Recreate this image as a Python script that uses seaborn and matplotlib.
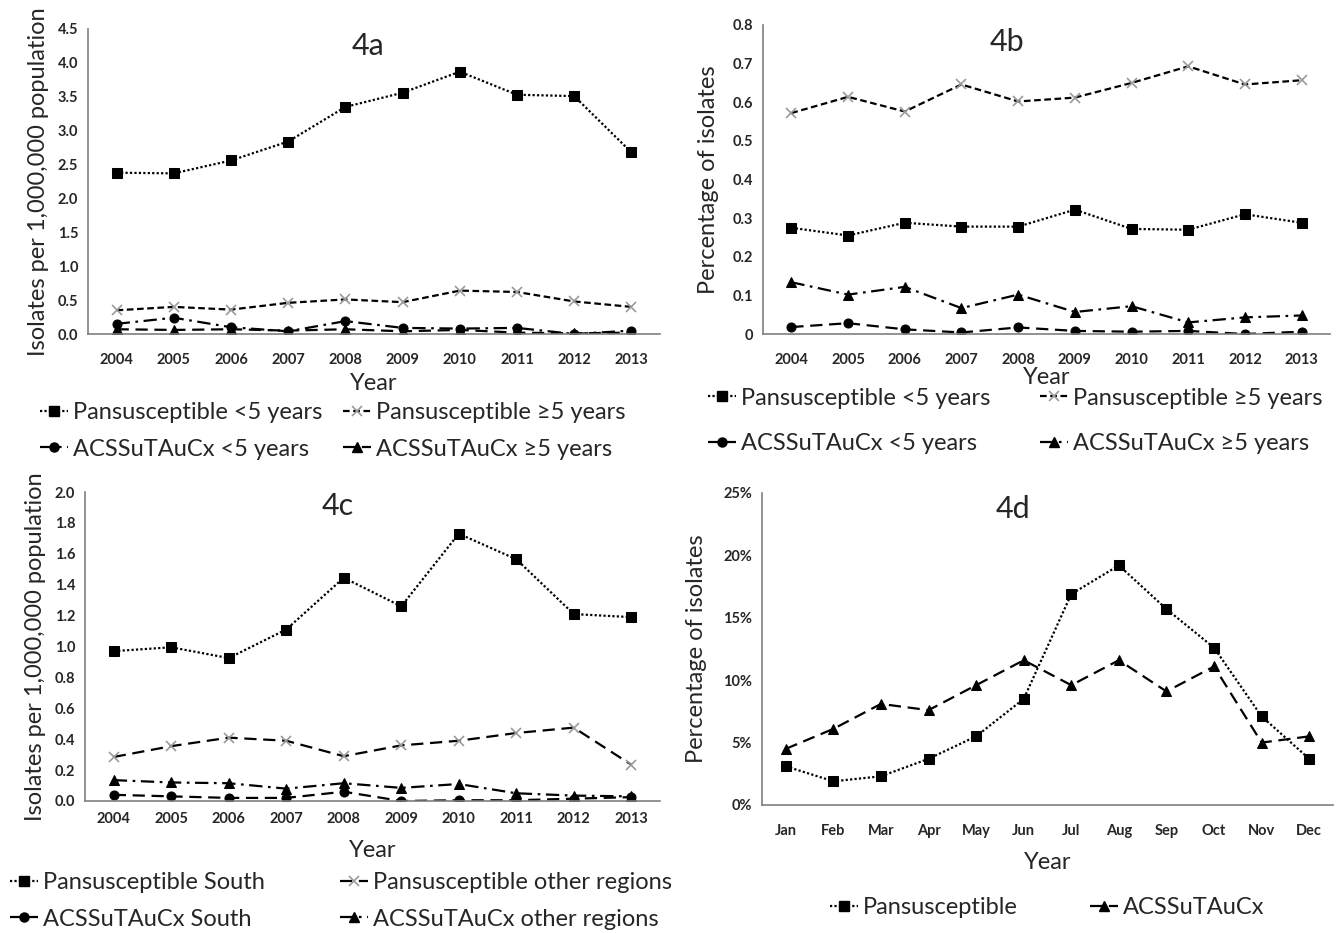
import matplotlib
matplotlib.use("Agg")
import matplotlib.pyplot as plt
import seaborn as sns
from matplotlib.lines import Line2D
from matplotlib.ticker import FuncFormatter, MultipleLocator, FixedLocator

# ---------------- data ----------------
years = ["2004", "2005", "2006", "2007", "2008", "2009", "2010", "2011", "2012", "2013"]
months = ["Jan", "Feb", "Mar", "Apr", "May", "Jun", "Jul", "Aug", "Sep", "Oct", "Nov", "Dec"]

# 4a: isolates per 1,000,000 population by age
a_pan_lt5 = [2.38, 2.37, 2.56, 2.84, 3.35, 3.56, 3.87, 3.53, 3.51, 2.68]
a_pan_ge5 = [0.35, 0.40, 0.36, 0.46, 0.51, 0.47, 0.64, 0.62, 0.48, 0.40]
a_acs_lt5 = [0.15, 0.24, 0.10, 0.04, 0.19, 0.09, 0.08, 0.09, 0.00, 0.05]
a_acs_ge5 = [0.07, 0.06, 0.07, 0.05, 0.07, 0.04, 0.06, 0.02, 0.01, 0.02]

# 4b: percentage of isolates by age
b_pan_lt5 = [0.275, 0.255, 0.288, 0.278, 0.278, 0.322, 0.272, 0.270, 0.310, 0.288]
b_pan_ge5 = [0.572, 0.614, 0.576, 0.646, 0.602, 0.612, 0.650, 0.693, 0.646, 0.657]
b_acs_lt5 = [0.018, 0.028, 0.012, 0.004, 0.017, 0.008, 0.006, 0.008, 0.000, 0.006]
b_acs_ge5 = [0.134, 0.102, 0.122, 0.067, 0.102, 0.057, 0.072, 0.030, 0.043, 0.048]

# 4c: isolates per 1,000,000 population by region
c_pan_south = [0.97, 0.995, 0.925, 1.11, 1.445, 1.26, 1.73, 1.565, 1.21, 1.19]
c_pan_other = [0.285, 0.355, 0.41, 0.39, 0.29, 0.36, 0.39, 0.44, 0.475, 0.235]
c_acs_south = [0.04, 0.03, 0.02, 0.02, 0.06, 0.00, 0.005, 0.005, 0.015, 0.025]
c_acs_other = [0.135, 0.12, 0.115, 0.08, 0.115, 0.085, 0.11, 0.05, 0.035, 0.03]

# 4d: percentage of isolates by month (%)
d_pan = [3.1, 1.9, 2.3, 3.7, 5.5, 8.5, 16.9, 19.2, 15.7, 12.6, 7.1, 3.7]
d_acs = [4.5, 6.1, 8.1, 7.6, 9.6, 11.6, 9.6, 11.6, 9.1, 11.1, 5.0, 5.5]

labels_a = ["Pansusceptible <5 years", "Pansusceptible \u22655 years",
            "ACSSuTAuCx <5 years", "ACSSuTAuCx \u22655 years"]
labels_c = ["Pansusceptible South", "Pansusceptible other regions",
            "ACSSuTAuCx South", "ACSSuTAuCx other regions"]
labels_d = ["Pansusceptible", "ACSSuTAuCx"]

# ---------------- style ----------------
sns.set_theme(style="white")
plt.rcParams['font.family'] = ['Lato', 'DejaVu Sans']

DOT = (0, (1, 1))
SDASH = (0, (3, 1.6))
LDASH = (0, (5.5, 3))
DASHDOT = (0, (6, 2.5, 1.2, 2.5))
GRAY = "#9a9a9a"
SPINE = "#7f7f7f"

STY = {
    "sq": dict(marker="s", markersize=7, markerfacecolor="black", markeredgecolor="black"),
    "x": dict(marker="x", markersize=7, markerfacecolor=GRAY, markeredgecolor=GRAY, markeredgewidth=1.2),
    "o": dict(marker="o", markersize=6.5, markerfacecolor="black", markeredgecolor="black"),
    "tri": dict(marker="^", markersize=6.5, markerfacecolor="black", markeredgecolor="black"),
}


def draw(ax, cats, vals, ls, mk, lw=1.6):
    sns.lineplot(x=cats, y=vals, ax=ax, color="black", linestyle=ls, linewidth=lw,
                 sort=False, **STY[mk])


def handle(ls, mk, lw=1.6):
    return Line2D([], [], color="black", linestyle=ls, linewidth=lw, **STY[mk])


def style_axes(ax, n, ymax, ystep, fmt, title, tx, ty, xpad, lpad):
    ax.set_xlim(-0.5, n - 0.5)
    ax.set_ylim(0, ymax)
    ax.yaxis.set_major_locator(MultipleLocator(ystep))
    ax.yaxis.set_major_formatter(FuncFormatter(fmt))
    ax.xaxis.set_minor_locator(FixedLocator([i - 0.5 for i in range(n + 1)]))
    ax.tick_params(axis="x", which="major", length=0, pad=xpad, labelsize=10.5)
    ax.tick_params(axis="x", which="minor", length=5, width=1, color=SPINE, direction="out")
    ax.tick_params(axis="y", which="major", length=4, width=1, color=SPINE, direction="out",
                   labelsize=10.5, pad=3)
    for lab in ax.get_xticklabels() + ax.get_yticklabels():
        lab.set_fontweight("bold")
    for s in ["top", "right"]:
        ax.spines[s].set_visible(False)
    for s in ["left", "bottom"]:
        ax.spines[s].set_color(SPINE)
        ax.spines[s].set_linewidth(1.2)
    ax.text(tx, ty, title, transform=ax.transAxes, ha="center", va="center", fontsize=22)
    ax.set_xlabel("Year", fontsize=17, labelpad=lpad)


def add_legend(fig, handles, labels, x, y, spacing=0.65):
    fig.legend(handles, labels, loc="center left", bbox_to_anchor=(x / 1340, 1 - y / 933),
               frameon=False, fontsize=17, handlelength=1.2, handletextpad=0.2,
               labelspacing=spacing, borderpad=0, borderaxespad=0)


W, H = 1340, 933
fig = plt.figure(figsize=(13.4, 9.33), dpi=100)


def axes_px(l, r, t, b):
    return fig.add_axes([l / W, 1 - b / H, (r - l) / W, (b - t) / H])


fmt1 = lambda v, p: f"{v:.1f}"
fmt_b = lambda v, p: "0" if abs(v) < 1e-9 else f"{v:.1f}"
fmt_pct = lambda v, p: f"{v:.0f}%"

# ---- 4a ----
axa = axes_px(88, 660, 29, 334)
draw(axa, years, a_pan_lt5, DOT, "sq")
draw(axa, years, a_pan_ge5, SDASH, "x")
draw(axa, years, a_acs_lt5, DASHDOT, "o")
draw(axa, years, a_acs_ge5, LDASH, "tri")
style_axes(axa, 10, 4.5, 0.5, fmt1, "4a", 0.49, 0.945, 14, 4)
axa.set_ylabel("Isolates per 1,000,000 population", fontsize=17, labelpad=6)
add_legend(fig, [handle(DOT, "sq"), handle(DASHDOT, "o")], [labels_a[0], labels_a[2]], 40, 431)
add_legend(fig, [handle(SDASH, "x"), handle(LDASH, "tri")], [labels_a[1], labels_a[3]], 343, 431)

# ---- 4b ----
axb = axes_px(763, 1330, 25, 334)
draw(axb, years, b_pan_lt5, DOT, "sq")
draw(axb, years, b_pan_ge5, SDASH, "x")
draw(axb, years, b_acs_lt5, LDASH, "o")
draw(axb, years, b_acs_ge5, DASHDOT, "tri")
style_axes(axb, 10, 0.8, 0.1, fmt_b, "4b", 0.43, 0.945, 14, 0)
axb.set_ylabel("Percentage of isolates", fontsize=17, labelpad=10)
add_legend(fig, [handle(DOT, "sq"), handle(LDASH, "o")], [labels_a[0], labels_a[2]], 708, 421, 1.05)
add_legend(fig, [handle(SDASH, "x"), handle(DASHDOT, "tri")], [labels_a[1], labels_a[3]], 1040, 421, 1.05)

# ---- 4c ----
axc = axes_px(85, 660, 492, 801)
draw(axc, years, c_pan_south, DOT, "sq")
draw(axc, years, c_pan_other, LDASH, "x")
draw(axc, years, c_acs_south, LDASH, "o")
draw(axc, years, c_acs_other, DASHDOT, "tri")
style_axes(axc, 10, 2.0, 0.2, fmt1, "4c", 0.44, 0.955, 8, 10)
axc.set_ylabel("Isolates per 1,000,000 population", fontsize=17, labelpad=6)
add_legend(fig, [handle(DOT, "sq"), handle(LDASH, "o")], [labels_c[0], labels_c[2]], 10, 901)
add_legend(fig, [handle(LDASH, "x"), handle(DASHDOT, "tri")], [labels_c[1], labels_c[3]], 340, 901)

# ---- 4d ----
axd = axes_px(762, 1333, 493, 805)
draw(axd, months, d_pan, DOT, "sq")
draw(axd, months, d_acs, LDASH, "tri")
style_axes(axd, 12, 25, 5, fmt_pct, "4d", 0.44, 0.95, 14, 10)
axd.set_ylabel("Percentage of isolates", fontsize=17, labelpad=12)
add_legend(fig, [handle(DOT, "sq")], [labels_d[0]], 830, 908)
add_legend(fig, [handle(LDASH, "tri")], [labels_d[1]], 1090, 908)

fig.savefig("out.png", dpi=100, facecolor="white")
